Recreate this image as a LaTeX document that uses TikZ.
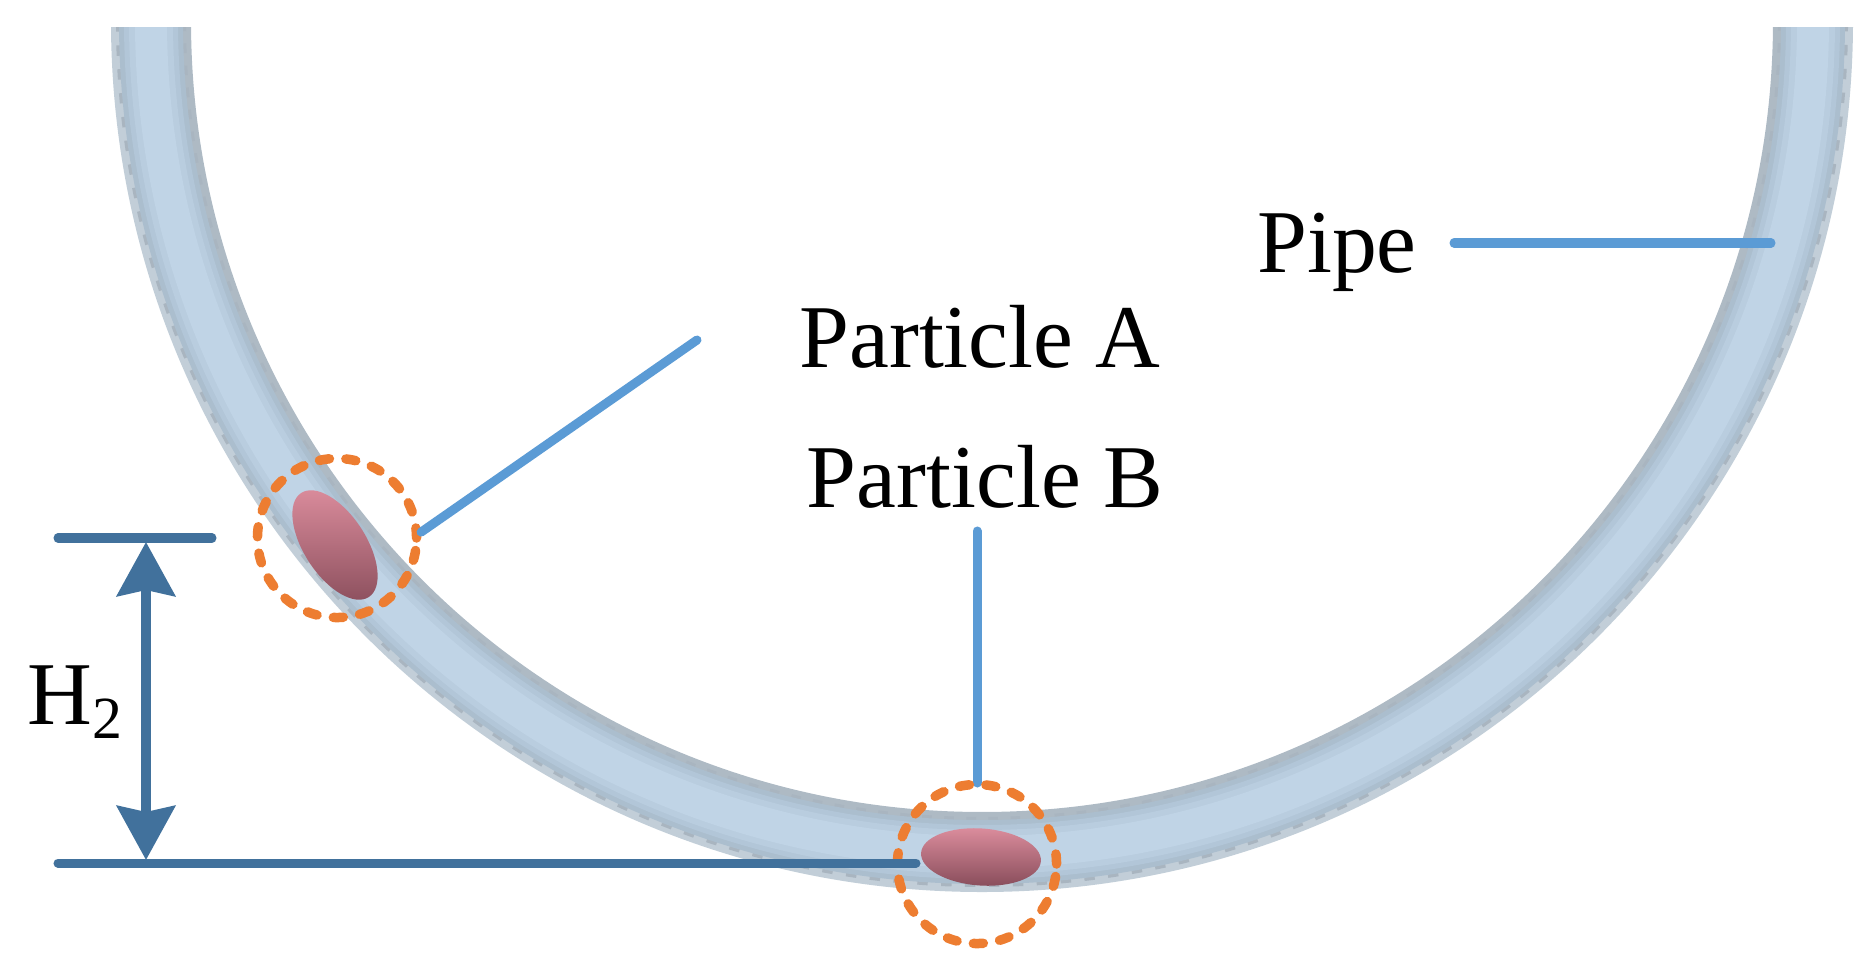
\documentclass[tikz,border=0pt]{standalone}
\usepackage{fontspec}
\setmainfont{Liberation Serif}
\usetikzlibrary{arrows.meta,shapes.geometric}
\definecolor{pipeOut}{HTML}{C2CED8}
\definecolor{pipeIn}{HTML}{AEBAC4}
\definecolor{pipeB}{HTML}{A9B5C0}
\definecolor{pipeC}{HTML}{ABBECE}
\definecolor{pipeD}{HTML}{B2C6D8}
\definecolor{pipeE}{HTML}{B9CDDF}
\definecolor{pipeF}{HTML}{C0D4E6}
\definecolor{leader}{HTML}{5B9BD5}
\definecolor{dimline}{HTML}{41719C}
\definecolor{ringcol}{HTML}{ED7D31}
\definecolor{partlight}{HTML}{DD8E9E}
\definecolor{partmid}{HTML}{D5899A}
\definecolor{partdark}{HTML}{8A4E5C}
\tikzset{
	label/.style={inner sep=0pt,anchor=base,font=\fontsize{25.5}{30}\selectfont},
	leaderline/.style={leader,line width=0.09cm,line cap=round},
	dimension/.style={dimline,line width=0.09cm,line cap=round},
	ring/.style={circle,draw=ringcol,line width=0.095cm,line cap=round,dash pattern=on 0.1cm off 0.165cm,minimum size=1.59cm,inner sep=0pt},
	particle/.style={ellipse,inner sep=0pt,top color=partlight,middle color=partmid,bottom color=partdark},
}
\begin{document}
\begin{tikzpicture}[>=stealth,x=0.01cm,y=-0.01cm]
	\useasboundingbox (0,0) rectangle (1875,976);
	\begin{scope}
		\clip (0,28) rectangle (1875,976);
		\draw[pipeOut,line width=0.4cm] (982,21) circle[radius=851];
		\draw[pipeIn,line width=0.4cm] (982,21) circle[radius=811];
		\draw[pipeB,line width=0.7cm,dash pattern=on 0.1cm off 0.13cm] (982,21) circle[radius=831];
		\foreach \w/\c in {64/pipeC,54/pipeD,44/pipeE,32/pipeF}
		\draw[\c,line width=\w*0.01cm] (982,21) circle[radius=831];
	\end{scope}
	\node[particle,minimum width=1.24cm,minimum height=0.62cm,rotate=-57] (partA) at (335,545) {};
	\node[particle,minimum width=1.2cm,minimum height=0.57cm,rotate=-4] (partB) at (981,857) {};
	\node[ring] (ringA) at (337,538) {};
	\node[label] (pipe) at (1337,272) {Pipe};
	\node[label] (labA) at (980,367) {Particle A};
	\node[label] (labB) at (985,507) {Particle B};
	\node[label,anchor=base west] (height) at (27,724) {H\raisebox{-4pt}{\fontsize{17}{17}\selectfont 2}};
	\coordinate (pipeL) at (1454,243);
	\coordinate (pipeR) at (1771,243);
	\coordinate (endA) at (697,340);
	\coordinate (endB) at (977,531);
	\coordinate (endC) at (977,783);
	\coordinate (topL) at (58,538);
	\coordinate (topR) at (212,538);
	\coordinate (botL) at (58,863);
	\coordinate (botR) at (916,863);
	\coordinate (dimT) at (146,542);
	\coordinate (dimB) at (146,860);
	\draw[leaderline] (pipeL)--(pipeR);
	\draw[leaderline] (endA)--(ringA.4);
	\draw[leaderline] (endB)--(endC);
	\node[ring] (ringB) at (977,864) {};
	\draw[dimension] (topL)--(topR);
	\draw[dimension] (botL)--(botR);
	\draw[dimension,line cap=butt,{Stealth[length=0.54cm,width=0.58cm,inset=0.06cm]}-{Stealth[length=0.54cm,width=0.58cm,inset=0.06cm]}] (dimT)--(dimB);
\end{tikzpicture}
\end{document}
